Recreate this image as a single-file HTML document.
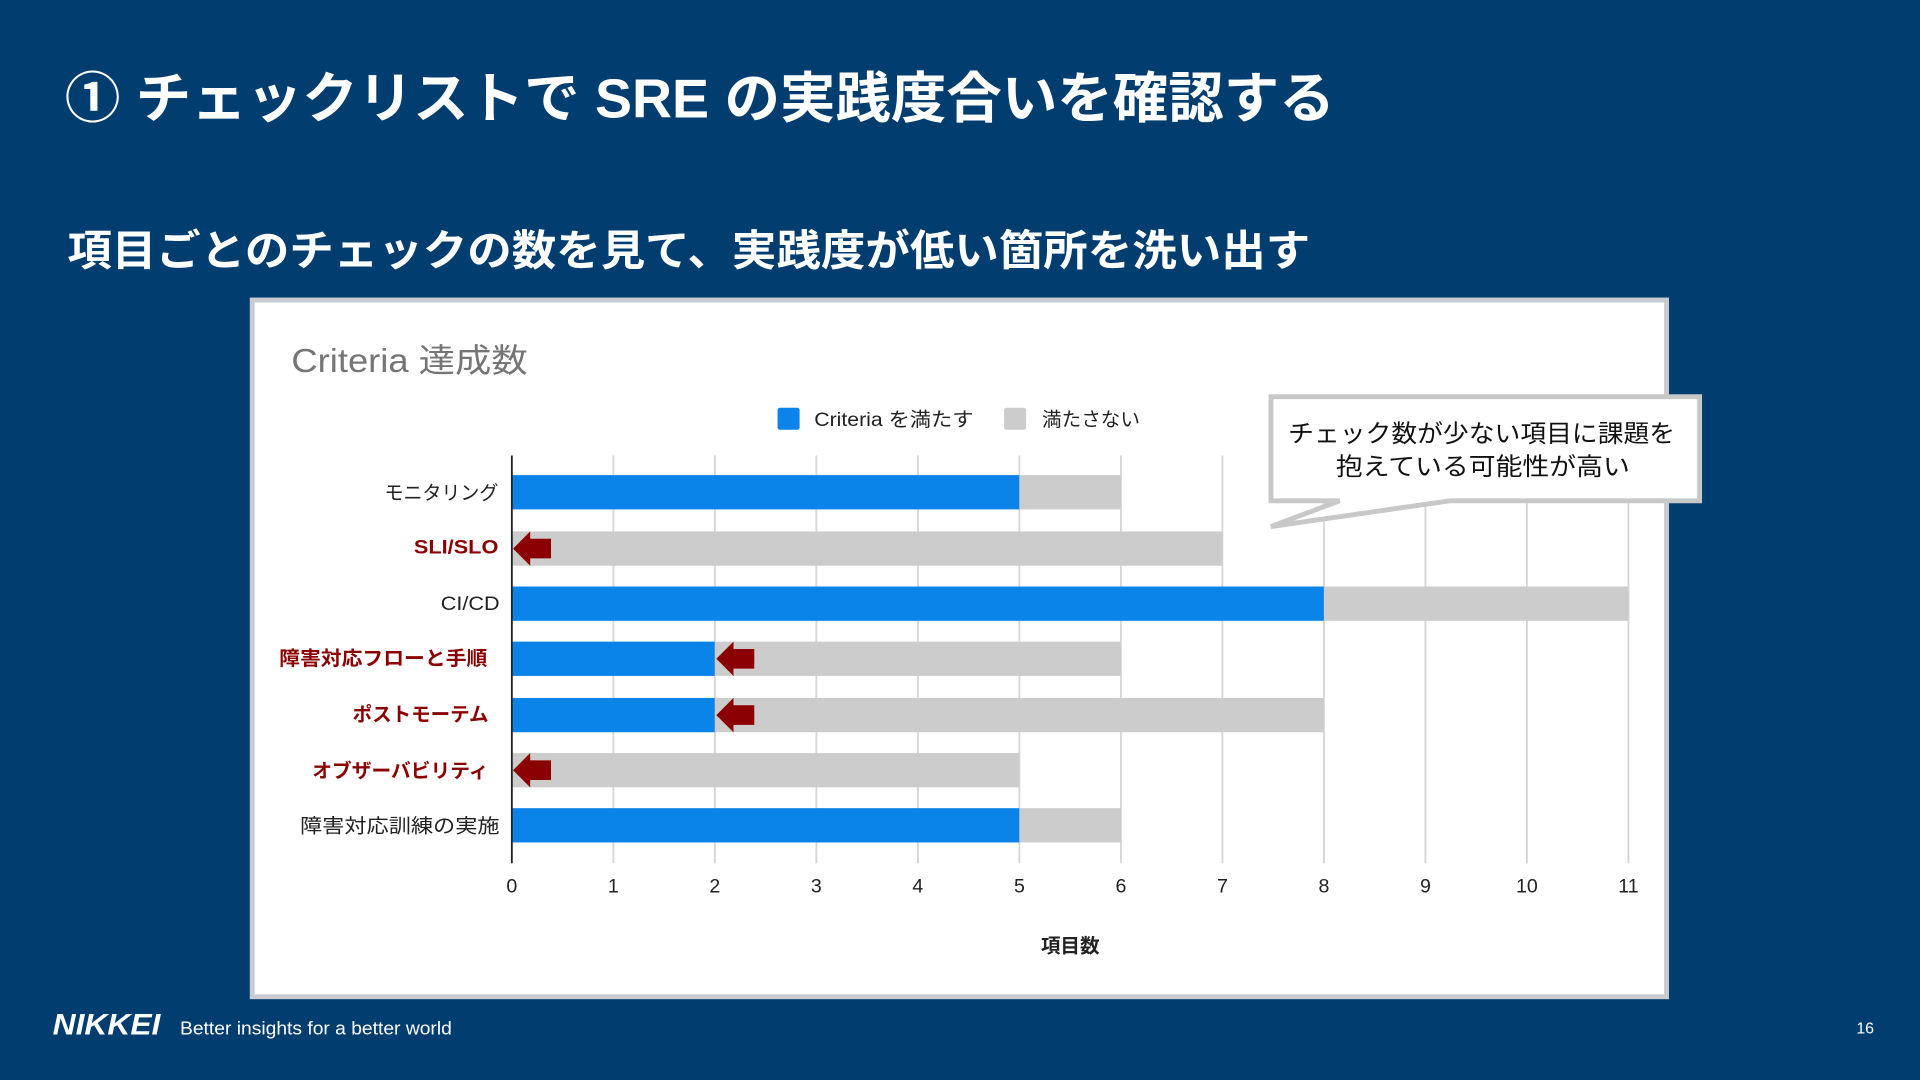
<!DOCTYPE html>
<html><head><meta charset="utf-8"><style>
html,body{margin:0;padding:0;background:#023d6f;}
svg{display:block;}
text{font-family:"Liberation Sans","Noto Sans CJK JP",sans-serif;}
</style></head><body>
<svg width="1920" height="1080" viewBox="0 0 1568 882" xmlns="http://www.w3.org/2000/svg">
<rect width="1568" height="882" fill="#023d6f"/>
<text x="53" y="96" font-size="45" font-weight="bold" fill="#fff" textLength="1037" lengthAdjust="spacingAndGlyphs">① チェックリストで  SRE の実践度合いを確認する</text>
<text x="55" y="217" font-size="35" font-weight="bold" fill="#fff" textLength="1015" lengthAdjust="spacingAndGlyphs">項目ごとのチェックの数を見て、実践度が低い箇所を洗い出す</text>
<rect x="206" y="245" width="1155" height="569" fill="#fff" stroke="#c8ccd0" stroke-width="4"/>
<text x="238" y="304" font-size="27" fill="#757575" textLength="193" lengthAdjust="spacingAndGlyphs">Criteria 達成数</text>
<rect x="635" y="333" width="18" height="18" rx="2" fill="#0a84e8"/>
<text x="665" y="348" font-size="16" fill="#222" textLength="130" lengthAdjust="spacingAndGlyphs">Criteria を満たす</text>
<rect x="820" y="333" width="18" height="18" rx="2" fill="#cccccc"/>
<text x="851" y="348" font-size="16" fill="#222" textLength="80" lengthAdjust="spacingAndGlyphs">満たさない</text>
<g stroke="#d6d6d6" stroke-width="1.5">
<line x1="500.9" y1="372" x2="500.9" y2="705"/><line x1="583.8" y1="372" x2="583.8" y2="705"/>
<line x1="666.7" y1="372" x2="666.7" y2="705"/><line x1="749.6" y1="372" x2="749.6" y2="705"/>
<line x1="832.5" y1="372" x2="832.5" y2="705"/><line x1="915.4" y1="372" x2="915.4" y2="705"/>
<line x1="998.3" y1="372" x2="998.3" y2="705"/><line x1="1081.2" y1="372" x2="1081.2" y2="705"/>
<line x1="1164.1" y1="372" x2="1164.1" y2="705"/><line x1="1247" y1="372" x2="1247" y2="705"/>
<line x1="1329.9" y1="372" x2="1329.9" y2="705"/>
</g>
<g>
<rect x="418" y="388" width="414.5" height="28" fill="#0a84e8"/><rect x="832.5" y="388" width="82.9" height="28" fill="#cccccc"/>
<rect x="418" y="434" width="580.3" height="28" fill="#cccccc"/>
<rect x="418" y="479" width="663.2" height="28" fill="#0a84e8"/><rect x="1081.2" y="479" width="248.7" height="28" fill="#cccccc"/>
<rect x="418" y="524" width="165.8" height="28" fill="#0a84e8"/><rect x="583.8" y="524" width="331.6" height="28" fill="#cccccc"/>
<rect x="418" y="570" width="165.8" height="28" fill="#0a84e8"/><rect x="583.8" y="570" width="497.4" height="28" fill="#cccccc"/>
<rect x="418" y="615" width="414.5" height="28" fill="#cccccc"/>
<rect x="418" y="660" width="414.5" height="28" fill="#0a84e8"/><rect x="832.5" y="660" width="82.9" height="28" fill="#cccccc"/>
</g>
<line x1="418" y1="372" x2="418" y2="705" stroke="#222" stroke-width="1.5"/>
<g fill="#8b0000">
<polygon points="419,448 433,434 433,440 450,440 450,456 433,456 433,462"/>
<polygon points="585,538 599,524 599,530 616,530 616,546 599,546 599,552"/>
<polygon points="585,584 599,570 599,576 616,576 616,592 599,592 599,598"/>
<polygon points="419,629 433,615 433,621 450,621 450,637 433,637 433,643"/>
</g>
<g font-size="16" fill="#222">
<text x="314" y="408" textLength="93" lengthAdjust="spacingAndGlyphs">モニタリング</text>
<text x="338" y="452" fill="#8b0000" font-weight="bold" textLength="69" lengthAdjust="spacingAndGlyphs">SLI/SLO</text>
<text x="360" y="498" textLength="48" lengthAdjust="spacingAndGlyphs">CI/CD</text>
<text x="228" y="543" fill="#8b0000" font-weight="bold" textLength="170" lengthAdjust="spacingAndGlyphs">障害対応フローと手順</text>
<text x="288" y="589" fill="#8b0000" font-weight="bold" textLength="111" lengthAdjust="spacingAndGlyphs">ポストモーテム</text>
<text x="255" y="635" fill="#8b0000" font-weight="bold" textLength="144" lengthAdjust="spacingAndGlyphs">オブザーバビリティ</text>
<text x="245" y="680" textLength="163" lengthAdjust="spacingAndGlyphs">障害対応訓練の実施</text>
</g>
<g font-size="16" text-anchor="middle" fill="#222">
<text x="418" y="729">0</text><text x="500.9" y="729">1</text><text x="583.8" y="729">2</text>
<text x="666.7" y="729">3</text><text x="749.6" y="729">4</text><text x="832.5" y="729">5</text>
<text x="915.4" y="729">6</text><text x="998.3" y="729">7</text><text x="1081.2" y="729">8</text>
<text x="1164.1" y="729">9</text><text x="1247" y="729">10</text><text x="1329.9" y="729">11</text>
<text x="874" y="778" font-weight="bold">項目数</text>
</g>
<path d="M1038,324 L1388,324 L1388,409 L1184,409 L1038,430 L1094,409 L1038,409 Z" fill="#fff" stroke="#c8c8c8" stroke-width="4" stroke-linejoin="miter"/>
<g font-size="20" fill="#111">
<text x="1052" y="361" textLength="316" lengthAdjust="spacingAndGlyphs">チェック数が少ない項目に課題を</text>
<text x="1091" y="388" textLength="240" lengthAdjust="spacingAndGlyphs">抱えている可能性が高い</text>
</g>
<text x="43" y="845" font-size="24" font-weight="bold" font-style="italic" fill="#fff" textLength="88" lengthAdjust="spacingAndGlyphs">NIKKEI</text>
<text x="147" y="845" font-size="15" fill="#fff" textLength="222" lengthAdjust="spacingAndGlyphs">Better insights for a better world</text>
<text x="1516" y="844" font-size="13" fill="#fff">16</text>
</svg>
</body></html>
